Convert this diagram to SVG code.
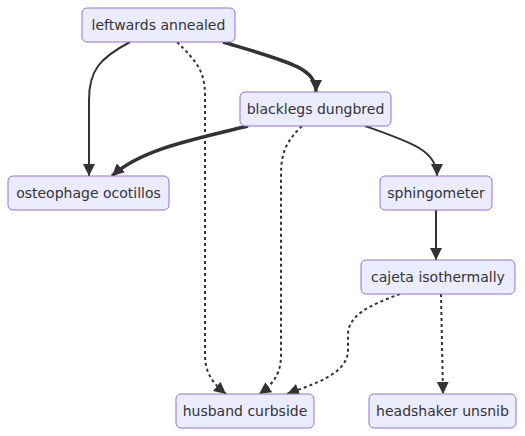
<svg xmlns="http://www.w3.org/2000/svg" width="525" height="436" viewBox="0 0 525 436">
<style>
.node rect{fill:#ECECFF;stroke:#9370DB;stroke-width:1}
.node text{font-family:"DejaVu Sans",Verdana,Arial,sans-serif;font-size:14px;fill:#333;text-anchor:middle}
.edge{fill:none;stroke:#333;stroke-width:2}
.thick{stroke-width:3.5}
.dot{stroke-dasharray:3 3}
</style>
<defs>
<marker id="arr" viewBox="0 0 10 10" refX="10" refY="5" markerWidth="12" markerHeight="12" markerUnits="userSpaceOnUse" orient="auto">
<path d="M0,0 L10,5 L0,10 z" fill="#333"/>
</marker>
</defs>
<rect width="525" height="436" fill="#fff"/>
<g id="connectors">
<path class="edge" d="M130,42 C100,58 89,70 89,100 L89,176" marker-end="url(#arr)"/>
<path class="edge thick" d="M223,42 C290,62 316,68 316,92" marker-end="url(#arr)"/>
<path class="edge dot" d="M177,42 C195,60 205,70 205,95 L205,355 C205,375 215,385 226,394" marker-end="url(#arr)"/>
<path class="edge thick" d="M248,126 C190,140 140,150 112,176" marker-end="url(#arr)"/>
<path class="edge dot" d="M302,126 C288,140 281,150 281,175 L281,355 C281,375 272,385 259,394" marker-end="url(#arr)"/>
<path class="edge" d="M365,126 C410,142 437,150 437,176" marker-end="url(#arr)"/>
<path class="edge" d="M436,210 L436,260" marker-end="url(#arr)"/>
<path class="edge dot" d="M400,294 C370,305 348,315 348,335 L348,350 C348,375 310,385 287,394" marker-end="url(#arr)"/>
<path class="edge dot" d="M441,294 L443,394" marker-end="url(#arr)"/>
</g>
<g id="leftwards" class="node"><rect x="82" y="8" width="153" height="34" rx="5"/><text x="158.5" y="30">leftwards annealed</text></g>
<g id="blacklegs" class="node"><rect x="240" y="92" width="151" height="34" rx="5"/><text x="315.5" y="114">blacklegs dungbred</text></g>
<g id="osteophage" class="node"><rect x="8" y="176" width="161" height="34" rx="5"/><text x="88.5" y="198">osteophage ocotillos</text></g>
<g id="sphingometer" class="node"><rect x="380" y="176" width="112" height="34" rx="5"/><text x="436" y="198">sphingometer</text></g>
<g id="cajeta" class="node"><rect x="361" y="260" width="154" height="34" rx="5"/><text x="438" y="282">cajeta isothermally</text></g>
<g id="husband" class="node"><rect x="176" y="394" width="138" height="34" rx="5"/><text x="245" y="416">husband curbside</text></g>
<g id="headshaker" class="node"><rect x="369" y="394" width="147" height="34" rx="5"/><text x="442.5" y="416">headshaker unsnib</text></g>
</svg>
